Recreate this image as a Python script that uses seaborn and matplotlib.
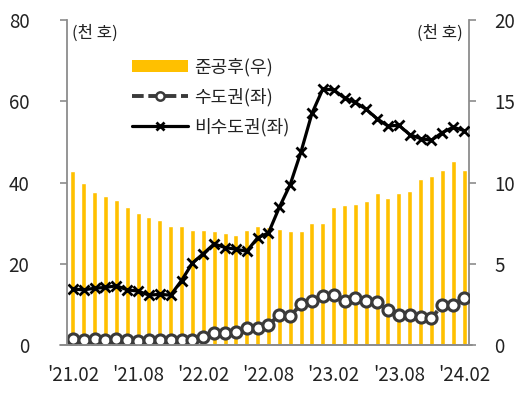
import numpy as np
import pandas as pd
import matplotlib
matplotlib.use("Agg")
import matplotlib.pyplot as plt
import seaborn as sns
from matplotlib.patches import Patch
from matplotlib.lines import Line2D

sns.set_style("white")
plt.rcParams['font.family'] = ['Noto Sans CJK KR', 'DejaVu Sans']

months = pd.period_range("2021-02", "2024-02", freq="M").strftime("'%y.%m").tolist()

completed_right = [10.7, 10.0, 9.4, 9.2, 8.95, 8.5, 8.1, 7.9, 7.7, 7.35,
                   7.35, 7.1, 7.1, 7.0, 6.9, 6.8, 7.1, 7.35, 7.25, 7.15,
                   7.05, 7.05, 7.5, 7.5, 8.5, 8.6, 8.7, 8.85, 9.35, 9.05,
                   9.35, 9.45, 10.2, 10.4, 10.8, 11.3, 10.8]
capital_left = [1.5, 1.2, 1.4, 1.2, 1.4, 1.2, 0.9, 1.2, 1.2, 1.2,
                1.2, 1.2, 2.0, 2.9, 2.9, 3.3, 4.3, 4.3, 4.9, 7.5,
                7.2, 10.0, 10.9, 12.1, 12.3, 10.8, 11.5, 10.8, 10.5, 8.6,
                7.5, 7.5, 7.0, 6.6, 9.9, 9.9, 11.7]
noncapital_left = [13.8, 13.6, 14.0, 14.2, 14.6, 13.6, 13.3, 12.3, 12.5, 12.3,
                   15.9, 20.2, 22.5, 24.9, 24.0, 23.6, 23.1, 26.4, 27.6, 33.9,
                   39.5, 47.6, 57.0, 63.0, 62.8, 60.8, 59.7, 58.0, 55.7, 53.9,
                   54.1, 51.8, 50.8, 50.4, 52.3, 53.6, 52.8]

label_bar = "준공후(우)"
label_cap = "수도권(좌)"
label_non = "비수도권(좌)"
unit = "(천 호)"

df = pd.DataFrame({"month": months, "idx": np.arange(len(months)),
                   "bar": completed_right, "cap": capital_left, "non": noncapital_left})

fig = plt.figure(figsize=(5.27, 3.99), dpi=100)
ax = fig.add_axes([0.127, 0.135, 0.763, 0.815])
axr = ax.twinx()

bar_color = "#FFC000"
sns.barplot(data=df, x="idx", y="bar", ax=axr, color=bar_color, width=0.46,
            native_scale=True, saturation=1)

sns.lineplot(data=df, x="idx", y="cap", ax=ax, color="#3a3a3a", lw=2.8,
             linestyle=(0, (3, 1.2)), marker="o", markersize=8,
             markerfacecolor="white", markeredgecolor="#3a3a3a", markeredgewidth=2.2)
sns.lineplot(data=df, x="idx", y="non", ax=ax, color="black", lw=2.3,
             marker="x", markersize=7, markeredgewidth=2, markeredgecolor="black")

ax.set_zorder(axr.get_zorder() + 1)
ax.patch.set_visible(False)

xmin, xmax = -0.55, 36.46
ax.set_xlim(xmin, xmax)
axr.set_xlim(xmin, xmax)
ax.set_ylim(0, 80)
axr.set_ylim(0, 20)
ax.set_yticks([0, 20, 40, 60, 80])
axr.set_yticks([0, 5, 10, 15, 20])
ax.set_xticks(np.arange(len(months)))
ax.set_xticklabels([m if i % 6 == 0 else "" for i, m in enumerate(months)])
for a in (ax, axr):
    a.set_xlabel("")
    a.set_ylabel("")

spine_c = "#8c8c8c"
for a in (ax, axr):
    for s in a.spines.values():
        s.set_color(spine_c)
        s.set_linewidth(1.3)
    a.spines["top"].set_visible(False)
axr.spines["left"].set_visible(False)
axr.spines["bottom"].set_visible(False)
ax.spines["right"].set_visible(False)

fs = 13.5
ax.tick_params(axis="y", direction="out", length=5, width=1.2, color=spine_c,
               labelsize=fs, labelcolor="#222222", pad=22)
for lab in ax.get_yticklabels():
    lab.set_horizontalalignment("right")
ax.tick_params(axis="x", direction="out", length=7, width=1.2, color="#222222",
               labelsize=fs, labelcolor="#222222", pad=7)
axr.tick_params(axis="y", direction="out", length=5, width=1.2, color=spine_c,
                labelsize=fs, labelcolor="#222222", pad=13)
axr.tick_params(axis="x", bottom=False, labelbottom=False)

ax.plot([-0.018, 1.008], [0, 0], transform=ax.transAxes, color=spine_c, lw=1.3,
        clip_on=False, zorder=0)

ax.text(0.012, 0.985, unit, transform=ax.transAxes, ha="left", va="top",
        fontsize=12, color="#222222")
ax.text(0.985, 0.985, unit, transform=ax.transAxes, ha="right", va="top",
        fontsize=12, color="#222222")

handles = [
    Patch(facecolor=bar_color, edgecolor="none"),
    Line2D([], [], color="#3a3a3a", lw=2.8, linestyle=(0, (3, 1.2)), marker="o",
           markersize=6, markerfacecolor="white", markeredgecolor="#3a3a3a",
           markeredgewidth=1.8),
    Line2D([], [], color="black", lw=2.3, marker="x", markersize=6,
           markeredgewidth=2),
]
leg = ax.legend(handles, [label_bar, label_cap, label_non], loc="upper left",
                bbox_to_anchor=(0.145, 0.905), frameon=False, fontsize=13,
                handlelength=3.1, handleheight=0.6, labelspacing=0.62,
                handletextpad=0.3, borderaxespad=0)
for t in leg.get_texts():
    t.set_color("#222222")

fig.savefig("out.png", dpi=100)
